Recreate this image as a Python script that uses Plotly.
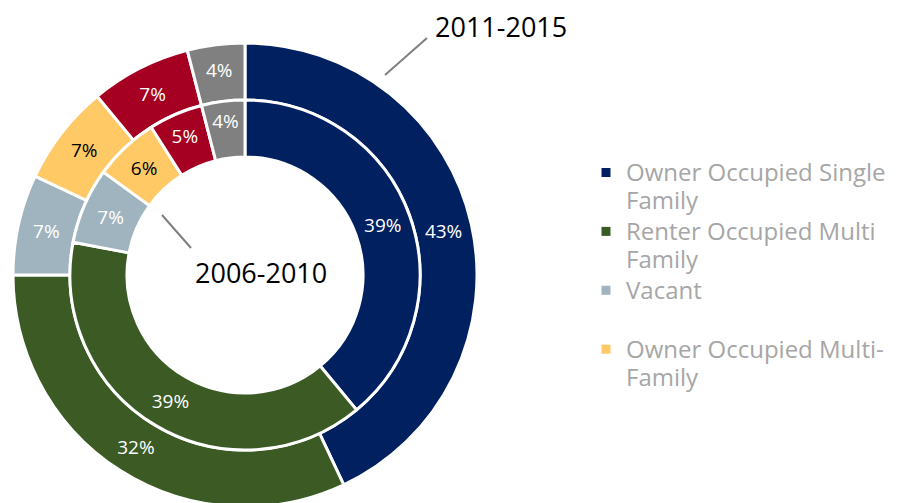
import plotly.graph_objects as go

categories = ["Owner Occupied Single Family", "Renter Occupied Multi Family", "Vacant",
              "Owner Occupied Multi-Family", "Renter Occupied Single Family", "Other"]
legend_lines = [["Owner Occupied Single", "Family"], ["Renter Occupied Multi", "Family"],
                ["Vacant", "&nbsp;"], ["Owner Occupied Multi-", "Family"]]
values_2011_2015 = [43, 32, 7, 7, 7, 4]
values_2006_2010 = [39, 39, 7, 6, 5, 4]
series_names = ["2011-2015", "2006-2010"]

colors = ["#002060", "#3B5A24", "#A0B4BF", "#FFC966", "#A50021", "#808080"]
text_colors = ["white", "white", "white", "black", "white", "white"]

W, H = 905, 503
OFF = 8  # default page body margin


def px(x):
    return (x - OFF) / W


def py(y):
    return 1 - (y - OFF) / H


cx, cy = 245, 275
r_out, r_mid, r_in = 232, 175, 118


def dom(r):
    return dict(x=[px(cx - r), px(cx + r)], y=[py(cy + r), py(cy - r)])


fig = go.Figure()
fig.add_trace(go.Pie(
    labels=categories, values=values_2011_2015, name=series_names[0],
    domain=dom(r_out), hole=r_mid / r_out, sort=False, direction="clockwise", rotation=0,
    marker=dict(colors=colors, line=dict(color="white", width=3)),
    texttemplate="%{value}%", textposition="inside", insidetextorientation="horizontal",
    textfont=dict(family="Open Sans", size=19, color=text_colors),
    showlegend=False,
))
fig.add_trace(go.Pie(
    labels=categories, values=values_2006_2010, name=series_names[1],
    domain=dom(r_mid), hole=r_in / r_mid, sort=False, direction="clockwise", rotation=0,
    marker=dict(colors=colors, line=dict(color="white", width=3)),
    texttemplate="%{value}%", textposition="inside", insidetextorientation="horizontal",
    textfont=dict(family="Open Sans", size=19, color=text_colors),
    showlegend=False,
))
for lines, col in zip(legend_lines, colors[:4]):
    lab = "<br>".join('<span style="font-size:24px">%s</span>' % s for s in lines)
    fig.add_trace(go.Scatter(x=[None], y=[None], mode="markers", name=lab,
                             marker=dict(symbol="square", size=9, color=col)))

fig.add_annotation(text=series_names[0], x=px(501), y=py(26), xref="paper", yref="paper",
                   xanchor="center", yanchor="middle",
                   showarrow=False, font=dict(family="Open Sans", size=27, color="black"))
fig.add_annotation(text=series_names[1], x=px(261), y=py(272), xref="paper", yref="paper",
                   xanchor="center", yanchor="middle",
                   showarrow=False, font=dict(family="Open Sans", size=27, color="black"))
fig.add_shape(type="line", xref="paper", yref="paper", x0=px(385), y0=py(75), x1=px(427), y1=py(38),
              line=dict(color="#7F7F7F", width=2))
fig.add_shape(type="line", xref="paper", yref="paper", x0=px(162), y0=py(215), x1=px(191), y1=py(248),
              line=dict(color="#7F7F7F", width=2))

fig.update_layout(
    width=W, height=H, margin=dict(l=0, r=0, t=0, b=0),
    paper_bgcolor="white", plot_bgcolor="white",
    xaxis=dict(visible=False), yaxis=dict(visible=False),
    legend=dict(x=px(586), y=py(152), xanchor="left", yanchor="top", valign="top",
                itemwidth=30,
                font=dict(family="Open Sans", size=21.5, color="#A6A6A6"),
                tracegroupgap=0, bgcolor="rgba(0,0,0,0)"),
)
fig.write_html("out.html")
